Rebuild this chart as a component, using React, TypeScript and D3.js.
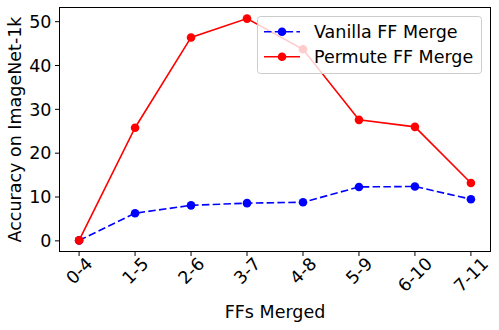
import React, { useRef, useEffect } from 'react';
import * as d3 from 'd3';

const categories = ['0-4', '1-5', '2-6', '3-7', '4-8', '5-9', '6-10', '7-11'];
const vanilla = [0.1, 6.3, 8.1, 8.6, 8.8, 12.3, 12.4, 9.5];
const permute = [0.1, 25.8, 46.4, 50.7, 43.7, 27.6, 26.0, 13.2];
const yTicks = [0, 10, 20, 30, 40, 50];

const FONT = "'DejaVu Sans', sans-serif";
const FS = 17.5;

function App() {
    const ref = useRef<SVGSVGElement>(null);

    useEffect(() => {
        const width = 499;
        const height = 330;
        const plot = { left: 59.5, right: 490.5, top: 7.5, bottom: 251.5 };

        const svg = d3.select(ref.current)
            .attr('width', width)
            .attr('height', height);
        svg.selectAll('*').remove();

        svg.append('rect').attr('width', width).attr('height', height).attr('fill', '#fff');

        const x = d3.scaleLinear()
            .domain([-0.35, categories.length - 1 + 0.35])
            .range([plot.left, plot.right]);
        const all = vanilla.concat(permute);
        const lo = d3.min(all)!;
        const hi = d3.max(all)!;
        const pad = (hi - lo) * 0.05;
        const y = d3.scaleLinear()
            .domain([lo - pad, hi + pad])
            .range([plot.bottom, plot.top]);

        // x axis, labels rotated 45deg and centred on the tick
        const xg = svg.append('g');
        categories.forEach((c, i) => {
            const px = x(i);
            xg.append('line')
                .attr('x1', px).attr('x2', px)
                .attr('y1', plot.bottom).attr('y2', plot.bottom + 4.5)
                .attr('stroke', '#000').attr('stroke-width', 1);
            const t = xg.append('text')
                .attr('text-anchor', 'middle')
                .attr('dy', '0.36em')
                .attr('font-family', FONT)
                .attr('font-size', FS)
                .attr('fill', '#000')
                .text(c);
            const w = (t.node() as SVGTextElement).getComputedTextLength();
            const half = (w + FS * 0.73) / (2 * Math.SQRT2);
            t.attr('transform', `translate(${px},${plot.bottom + 4.5 + half}) rotate(-45)`);
        });

        // y axis
        const yg = svg.append('g');
        yTicks.forEach(t => {
            const py = y(t);
            yg.append('line')
                .attr('x1', plot.left - 4.5).attr('x2', plot.left)
                .attr('y1', py).attr('y2', py)
                .attr('stroke', '#000').attr('stroke-width', 1);
            yg.append('text')
                .attr('x', plot.left - 8)
                .attr('y', py)
                .attr('dy', '0.36em')
                .attr('text-anchor', 'end')
                .attr('font-family', FONT)
                .attr('font-size', FS)
                .attr('fill', '#000')
                .text(t);
        });

        const line = d3.line<number>()
            .x((d, i) => x(i))
            .y(d => y(d));

        const series = [
            { name: 'Vanilla FF Merge', data: vanilla, color: '#0000ff', dash: '7.5,3.3' },
            { name: 'Permute FF Merge', data: permute, color: '#ff0000', dash: null },
        ];

        series.forEach(s => {
            svg.append('path')
                .datum(s.data)
                .attr('d', line)
                .attr('fill', 'none')
                .attr('stroke', s.color)
                .attr('stroke-width', 1.6)
                .attr('stroke-dasharray', s.dash);
            svg.append('g').selectAll('circle')
                .data(s.data)
                .enter().append('circle')
                .attr('cx', (d, i) => x(i))
                .attr('cy', d => y(d))
                .attr('r', 4.3)
                .attr('fill', s.color);
        });

        // frame
        svg.append('rect')
            .attr('x', plot.left).attr('y', plot.top)
            .attr('width', plot.right - plot.left)
            .attr('height', plot.bottom - plot.top)
            .attr('fill', 'none')
            .attr('stroke', '#000')
            .attr('stroke-width', 1);

        // legend
        const lg = svg.append('g');
        lg.append('rect')
            .attr('x', 257.5).attr('y', 16.5)
            .attr('width', 224).attr('height', 57)
            .attr('rx', 3)
            .attr('fill', '#fff').attr('fill-opacity', 0.8)
            .attr('stroke', '#ccc').attr('stroke-width', 1);
        series.forEach((s, i) => {
            const ly = 31.7 + i * 25;
            lg.append('line')
                .attr('x1', 264).attr('x2', 300)
                .attr('y1', ly).attr('y2', ly)
                .attr('stroke', s.color)
                .attr('stroke-width', 1.6)
                .attr('stroke-dasharray', s.dash);
            lg.append('circle')
                .attr('cx', 282).attr('cy', ly).attr('r', 4.3)
                .attr('fill', s.color);
            lg.append('text')
                .attr('x', 314).attr('y', ly)
                .attr('dy', '0.36em')
                .attr('font-family', FONT)
                .attr('font-size', FS)
                .attr('fill', '#000')
                .text(s.name);
        });

        // axis labels
        svg.append('text')
            .attr('x', (plot.left + plot.right) / 2)
            .attr('y', 318)
            .attr('text-anchor', 'middle')
            .attr('font-family', FONT)
            .attr('font-size', FS)
            .attr('fill', '#000')
            .text('FFs Merged');

        svg.append('text')
            .attr('transform', `translate(21,${(plot.top + plot.bottom) / 2}) rotate(-90)`)
            .attr('text-anchor', 'middle')
            .attr('font-family', FONT)
            .attr('font-size', FS)
            .attr('fill', '#000')
            .text('Accuracy on ImageNet-1k');
    }, []);

    return (
        <svg ref={ref} style={{ position: 'absolute', left: 0, top: 0 }} />
    );
}

export default App;
